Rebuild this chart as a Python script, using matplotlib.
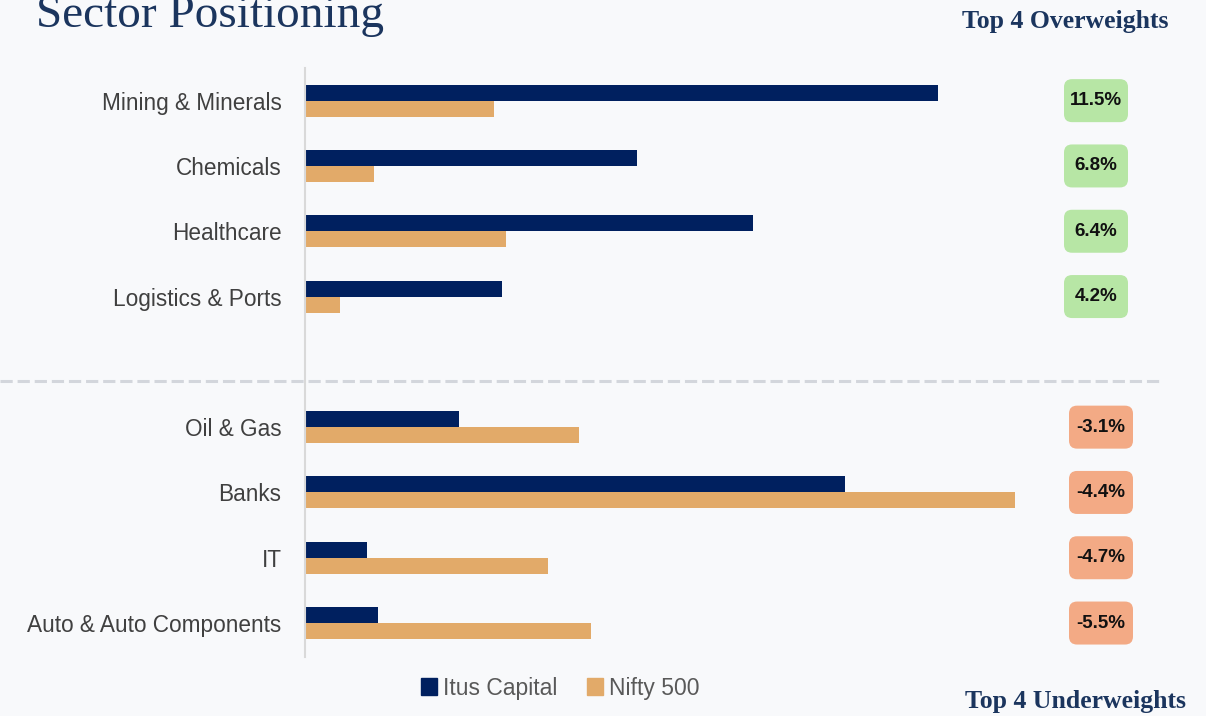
import matplotlib.pyplot as plt
from matplotlib.patches import FancyBboxPatch, Patch
from matplotlib.lines import Line2D
import matplotlib.transforms as mtransforms

sectors = ['Mining & Minerals', 'Chemicals', 'Healthcare', 'Logistics & Ports',
           'Oil & Gas', 'Banks', 'IT', 'Auto & Auto Components']
itus = [16.4, 8.6, 11.6, 5.1, 4.0, 14.0, 1.6, 1.9]
nifty = [4.9, 1.8, 5.2, 0.9, 7.1, 18.4, 6.3, 7.4]
active = ['11.5%', '6.8%', '6.4%', '4.2%', '-3.1%', '-4.4%', '-4.7%', '-5.5%']
positions = [0, 1, 2, 3, 5, 6, 7, 8]

NAVY = '#00205F'
ORANGE = '#E2AA69'
GREEN = '#B7E6A5'
RED = '#F3AA85'
BG = '#F8F9FB'
W, H = 1206, 716

fig = plt.figure(figsize=(W / 100, H / 100), dpi=100, facecolor=BG)
ax = fig.add_axes([305 / W, 59 / H, 772 / W, 589 / H])
ax.set_facecolor(BG)

bh = 0.245
ax.barh([p - bh / 2 for p in positions], itus, height=bh, color=NAVY, label='Itus Capital')
ax.barh([p + bh / 2 for p in positions], nifty, height=bh, color=ORANGE, label='Nifty 500')

ax.set_xlim(0, 20)
ax.set_ylim(8.52, -0.5)
ax.set_yticks(positions)
ax.set_yticklabels(sectors, fontsize=16.3, color='#404040', family='Liberation Sans')
ax.tick_params(axis='y', length=0, pad=17)
ax.set_xticks([])
for s in ['top', 'right', 'bottom']:
    ax.spines[s].set_visible(False)
ax.spines['left'].set_color('#D9D9D9')
ax.spines['left'].set_linewidth(1.5)

# dashed divider between overweights and underweights
trans = mtransforms.blended_transform_factory(fig.transFigure, ax.transData)
fig.add_artist(Line2D([0, 1160 / W], [4.29, 4.29], transform=trans, color='#D3D6DC',
                      lw=2.2, linestyle=(0, (4, 1.6)), clip_on=False))

# active weight badges
inv = fig.dpi_scale_trans.inverted()
for i, (p, lab) in enumerate(zip(positions, active)):
    ypix = ax.transData.transform((0, p))[1]
    xc = 1096 if i < 4 else 1101
    bw, bhh = 64, 43
    x0, y0 = inv.transform((xc - bw / 2, ypix - bhh / 2))
    box = FancyBboxPatch((x0, y0), bw / 100, bhh / 100,
                         boxstyle='round,pad=0,rounding_size=0.08',
                         transform=fig.dpi_scale_trans,
                         facecolor=GREEN if i < 4 else RED, edgecolor='none')
    fig.add_artist(box)
    fig.text(xc / W, ypix / H, lab, ha='center', va='center', fontsize=13.5,
             fontweight='bold', color='#111111', family='Liberation Sans')

# titles
fig.text(36 / W, (H - 27) / H, 'Sector Positioning', fontsize=34, color='#1B355E',
         family='Liberation Serif', va='baseline')
fig.text(1168 / W, (H - 28) / H, 'Top 4 Overweights', fontsize=18.5, color='#1B355E',
         family='Liberation Serif', fontweight='bold', ha='right', va='baseline')
fig.text(1186 / W, (H - 708) / H, 'Top 4 Underweights', fontsize=18.5, color='#1B355E',
         family='Liberation Serif', fontweight='bold', ha='right', va='baseline')

handles = [Patch(color=NAVY), Patch(color=ORANGE)]
leg = fig.legend(handles, ['Itus Capital', 'Nifty 500'], loc='center',
                 bbox_to_anchor=(560 / W, (H - 688) / H), ncol=2, frameon=False,
                 handlelength=0.7, handleheight=0.7, handletextpad=0.25,
                 columnspacing=1.3, prop={'family': 'Liberation Sans', 'size': 16.5})
for t in leg.get_texts():
    t.set_color('#595959')

fig.savefig('out.png', dpi=100, facecolor=BG)
